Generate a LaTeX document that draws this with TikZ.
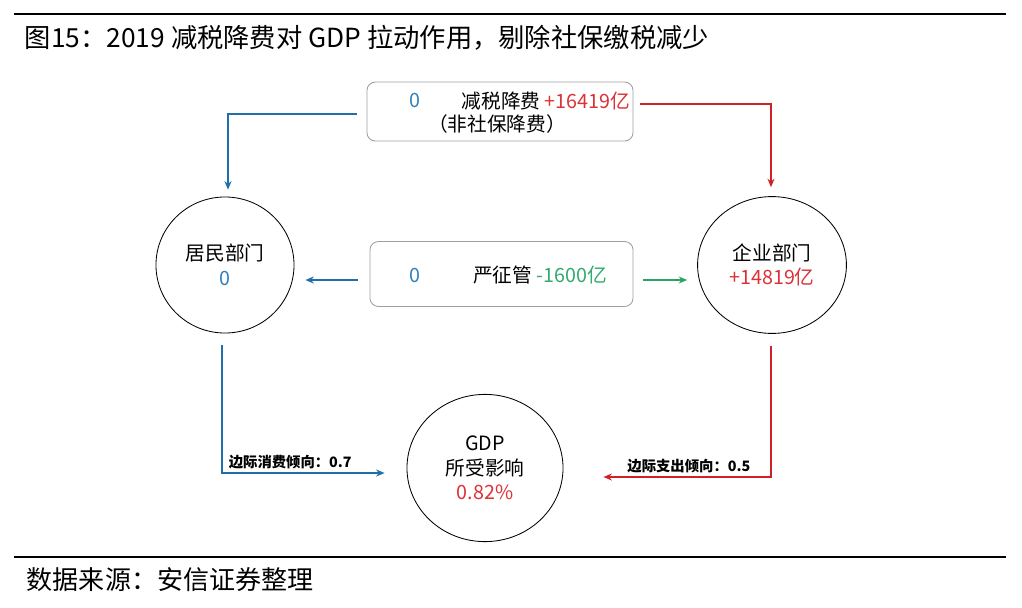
\documentclass[tikz,border=0pt]{standalone}
\usepackage{fontspec}
\setmainfont{Noto Sans CJK SC}
\usetikzlibrary{arrows.meta, shapes.geometric, calc}
\definecolor{lineblue}{RGB}{31,111,172}
\definecolor{textblue}{RGB}{45,130,190}
\definecolor{linered}{RGB}{205,35,40}
\definecolor{textred}{RGB}{220,50,55}
\definecolor{linegreen}{RGB}{40,165,100}
\definecolor{textgreen}{RGB}{50,170,110}

\begin{document}
\begin{tikzpicture}[x=0.025cm, y=-0.025cm,
    roundbox/.style={draw=gray!75, rounded corners=6pt, line width=0.6pt},
    sector/.style={draw, ellipse, line width=0.6pt, align=center, inner sep=0pt, font=\fontsize{14}{17.5}\selectfont},
    boxtxt/.style={font=\fontsize{14}{17}\selectfont, inner sep=0pt},
    flow/.style={-{Stealth[length=6pt, width=5pt]}, line width=1.1pt},
    mpc/.style={font=\fontsize{10.2}{12}\selectfont\bfseries, above, inner sep=2pt}
]
\useasboundingbox (0,0) rectangle (1022,607);
\fill[white] (0,0) rectangle (1022,607);

\draw[line width=0.8pt] (14,14) -- (1006,14);
\draw[line width=0.8pt] (14,557) -- (1006,557);
\node[anchor=west, font=\fontsize{18.7}{21}\selectfont] (title) at (20,38) {图15：2019 减税降费对 GDP 拉动作用，剔除社保缴税减少};
\node[anchor=west, font=\fontsize{18.5}{21}\selectfont] (source) at (22,580) {数据来源：安信证券整理};

\node[roundbox, minimum width=6.65cm, minimum height=1.475cm] (taxbox) at (500,111.5) {};
\node[boxtxt, text=textblue] (taxzero) at (415,100) {0};
\node[boxtxt] (taxcut) at (546,101) {减税降费 {\color{textred}+16419亿}};
\node[boxtxt] (taxnote) at (497,124) {（非社保降费）};

\node[roundbox, minimum width=6.575cm, minimum height=1.625cm] (strictbox) at (501.5,274) {};
\node[boxtxt, text=textblue] (strictzero) at (415,275) {0};
\node[boxtxt] (strict) at (540,275) {严征管 {\color{textgreen}-1600亿}};

\node[sector, minimum width=3.45cm, minimum height=3.4cm] (home) at (225,265) {居民部门\\{\color{textblue}0}};
\node[sector, minimum width=3.72cm, minimum height=3.42cm] (firm) at (772,265) {企业部门\\{\color{textred}+14819亿}};
\node[sector, minimum width=3.9cm, minimum height=3.68cm] (gdp) at (485,468) {GDP\\所受影响\\{\color{textred}0.82\%}};

\draw[flow, lineblue] ([shift={(-10,2.5)}]taxbox.west) -| ([shift={(3,-7)}]home.north);
\draw[flow, linered] ([shift={(7,-7.5)}]taxbox.east) -| ([shift={(-1,-9)}]firm.north);
\draw[flow, lineblue] ([shift={(-12,6)}]strictbox.west) -- ([shift={(11,15)}]home.east);
\draw[flow, linegreen] ([shift={(10,6)}]strictbox.east) -- ([shift={(-10,15)}]firm.west);
\draw[flow, lineblue] ([shift={(-3,12)}]home.south) |- ([shift={(-22,5)}]gdp.west)
    node[mpc, text=black, pos=0.71] {边际消费倾向：0.7};
\draw[flow, linered] ([shift={(-1,12)}]firm.south) |- ([shift={(40,9)}]gdp.east)
    node[mpc, text=black, pos=0.745] {边际支出倾向：0.5};
\end{tikzpicture}
\end{document}
